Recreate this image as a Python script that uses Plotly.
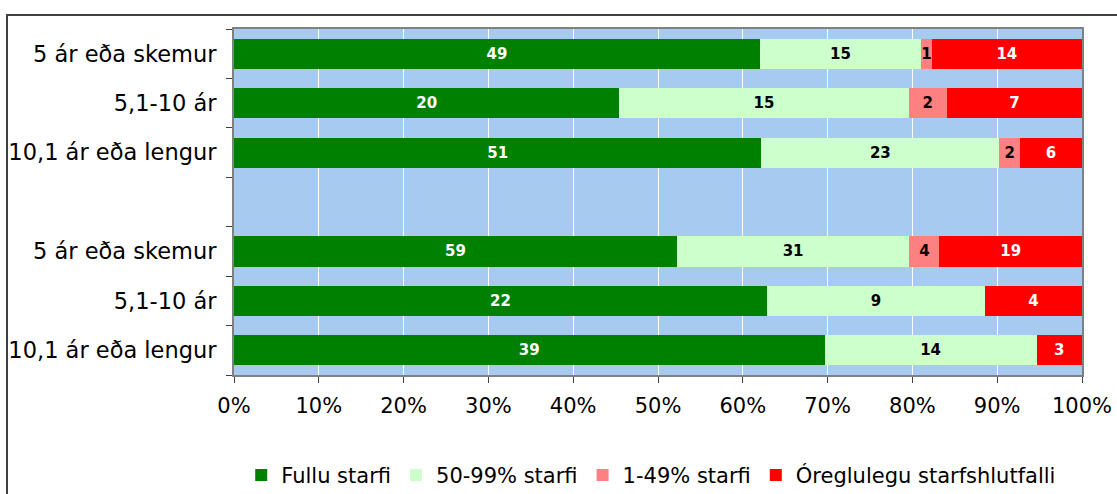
import plotly.graph_objects as go

# Data
category_ids = ["g1a", "g1b", "g1c", "gap", "g2a", "g2b", "g2c"]
category_labels = ["5 ár eða skemur", "5,1-10 ár", "10,1 ár eða lengur", "",
                   "5 ár eða skemur", "5,1-10 ár", "10,1 ár eða lengur"]
series_names = ["Fullu starfi", "50-99% starfi", "1-49% starfi", "Óreglulegu starfshlutfalli"]
fullu = [49, 20, 51, None, 59, 22, 39]
hlut50 = [15, 15, 23, None, 31, 9, 14]
hlut1 = [1, 2, 2, None, 4, 0, 0]
oreglulegu = [14, 7, 6, None, 19, 4, 3]
x_tick_vals = [0, 10, 20, 30, 40, 50, 60, 70, 80, 90, 100]
x_tick_text = ["0%", "10%", "20%", "30%", "40%", "50%", "60%", "70%", "80%", "90%", "100%"]

series_values = [fullu, hlut50, hlut1, oreglulegu]
colors = ["#008000", "#CCFFCC", "#FF8080", "#FF0000"]
text_colors = ["white", "black", "black", "white"]

fig = go.Figure()
for name, vals, col, tcol in zip(series_names, series_values, colors, text_colors):
    fig.add_trace(go.Bar(
        y=category_ids,
        x=[v if v is not None else 0 for v in vals],
        name=name,
        orientation="h",
        marker=dict(color=col, line=dict(width=0)),
        text=[str(v) if v else "" for v in vals],
        textposition="inside",
        insidetextanchor="middle",
        textangle=0,
        constraintext="none",
        textfont=dict(family="DejaVu Sans", size=15, color=tcol, weight="bold"),
        hoverinfo="skip",
    ))

fig.update_layout(
    barmode="stack",
    barnorm="percent",
    bargap=0.39,
    width=1117,
    height=494,
    margin=dict(l=234, r=35, t=29, b=119, autoexpand=False),
    paper_bgcolor="white",
    plot_bgcolor="#A6CAF0",
    font=dict(family="DejaVu Sans", size=20, color="black"),
    uniformtext=dict(minsize=12, mode="show"),
    showlegend=True,
    legend=dict(
        orientation="h",
        traceorder="normal",
        x=0.492, xanchor="center",
        y=-0.29, yanchor="middle",
        font=dict(family="DejaVu Sans", size=21, color="black"),
        itemwidth=30,
        tracegroupgap=0,
        bgcolor="rgba(0,0,0,0)",
    ),
    shapes=[dict(
        type="rect", xref="paper", yref="paper",
        x0=-0.2677, y0=-0.6, x1=1.1, y1=1.0405,
        line=dict(color="#404040", width=2),
        fillcolor="rgba(0,0,0,0)", layer="below",
    )],
)

fig.update_xaxes(
    range=[0, 100],
    automargin=False,
    tickmode="array", tickvals=x_tick_vals, ticktext=x_tick_text,
    showgrid=True, gridcolor="white", gridwidth=1,
    ticks="outside", ticklen=6, tickcolor="#404040",
    showline=True, linecolor="#808080", linewidth=2, mirror=True,
    zeroline=False,
    tickfont=dict(family="DejaVu Sans", size=21),
    ticklabelstandoff=5,
    fixedrange=True,
)
fig.update_yaxes(
    type="category",
    automargin=False,
    categoryorder="array", categoryarray=category_ids,
    tickmode="array", tickvals=category_ids, ticktext=category_labels,
    autorange="reversed",
    tickson="boundaries",
    ticks="outside", ticklen=6, tickcolor="#404040",
    showgrid=False,
    showline=True, linecolor="#808080", linewidth=2, mirror=True,
    tickfont=dict(family="DejaVu Sans", size=22.5),
    ticklabelstandoff=11,
    fixedrange=True,
)

fig.write_html(
    "out.html",
    config={"displayModeBar": False, "staticPlot": True},
    post_script="document.body.style.margin='0px';document.body.style.overflow='hidden';",
)
